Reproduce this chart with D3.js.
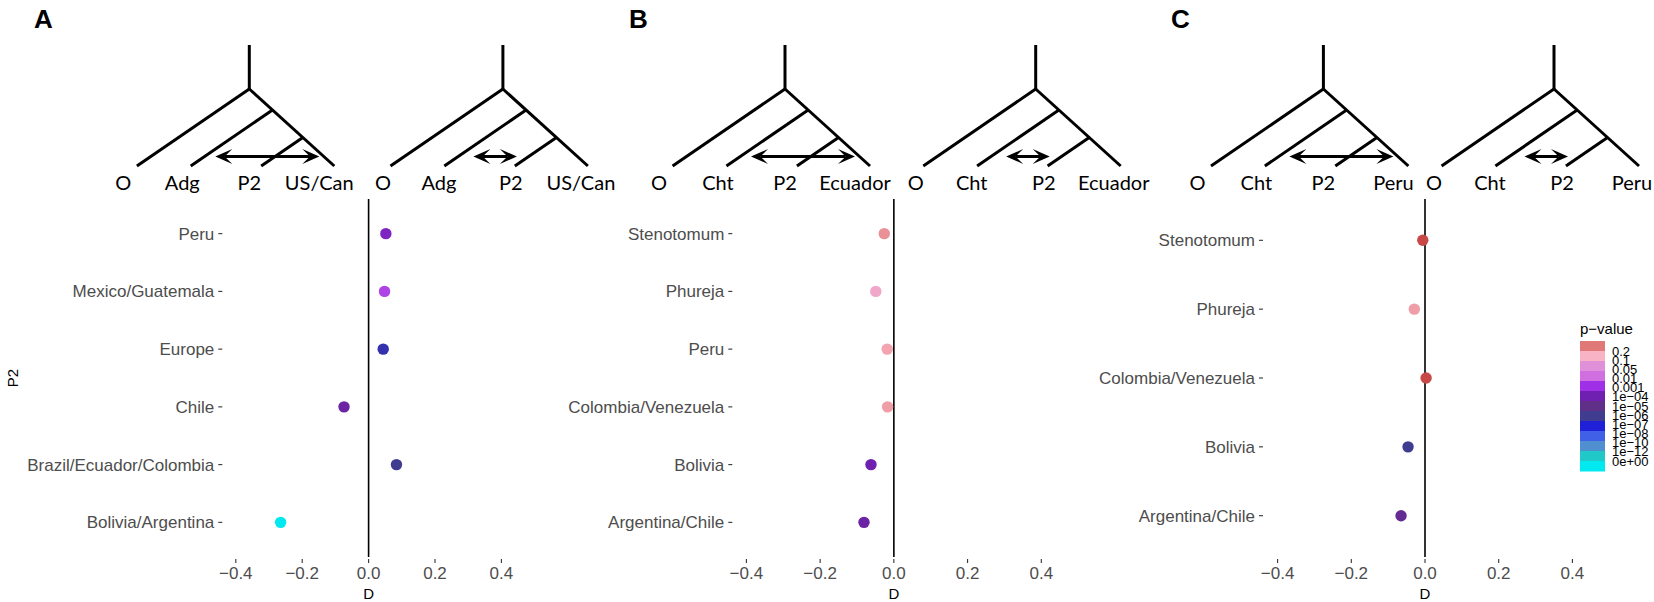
<!DOCTYPE html>
<html>
<head>
<meta charset="utf-8">
<script src="https://cdn.jsdelivr.net/npm/d3@7"></script>
<style>
  html, body { margin: 0; padding: 0; background: #fff; }
  svg { display: block; }
</style>
</head>
<body>
<svg id="chart" width="1654" height="602"></svg>
<script>
// ---------------- data ----------------
const catsA = ["Peru", "Mexico/Guatemala", "Europe", "Chile", "Brazil/Ecuador/Colombia", "Bolivia/Argentina"];
const dA = [0.052, 0.048, 0.044, -0.074, 0.084, -0.265];
const pA = [2e-4, 2e-3, 4e-7, 5e-5, 1e-6, 0];

const catsB = ["Stenotomum", "Phureja", "Peru", "Colombia/Venezuela", "Bolivia", "Argentina/Chile"];
const dB = [-0.026, -0.049, -0.018, -0.017, -0.062, -0.081];
const pB = [0.15, 0.08, 0.12, 0.13, 1e-4, 5e-5];

const catsC = ["Stenotomum", "Phureja", "Colombia/Venezuela", "Bolivia", "Argentina/Chile"];
const dC = [-0.006, -0.029, 0.003, -0.046, -0.065];
const pC = [0.5, 0.13, 0.5, 1e-6, 2e-5];

const xTicks = [-0.4, -0.2, 0.0, 0.2, 0.4];

const treeTipsA = ["O", "Adg", "P2", "US/Can"];
const treeTipsB = ["O", "Cht", "P2", "Ecuador"];
const treeTipsC = ["O", "Cht", "P2", "Peru"];

const legendLabels = ["0.2", "0.1", "0.05", "0.01", "0.001", "1e\u221204", "1e\u221205", "1e\u221206", "1e\u221207", "1e\u221208", "1e\u221210", "1e\u221212", "0e+00"];
const legendBreaks = [0.2, 0.1, 0.05, 0.01, 0.001, 1e-4, 1e-5, 1e-6, 1e-7, 1e-8, 1e-10, 1e-12, 0];
const legendColors = ["#e07878", "#f8b4c4", "#e090d8", "#d070e0", "#a030e8", "#7020b0", "#603088", "#403c90", "#2020d8", "#4060e8", "#5090d0", "#20c8c8", "#00e8f0"];
const aboveTopColor = "#c84848";

// ---------------- scales ----------------
const nlp = p => (p <= 0 ? 16 : -Math.log10(p));
const colour = d3.scaleLinear()
  .domain([nlp(0.5)].concat(legendBreaks.map(nlp)))
  .range([aboveTopColor].concat(legendColors))
  .interpolate(d3.interpolateRgb)
  .clamp(true);

const svg = d3.select("#chart");
const axisFont = "'Liberation Sans', Arial, Helvetica, sans-serif";
const treeFont = "Lato, 'Open Sans', sans-serif";

const panelTop = 199, panelBottom = 557;

const panels = [
  { letter: "A", letterX: 34, cats: catsA, d: dA, p: pA, xr: [235.8, 501.4], labelEnd: 214.3, roots: [249.3, 502.9], tips: treeTipsA, yTitle: "P2" },
  { letter: "B", letterX: 629, cats: catsB, d: dB, p: pB, xr: [746.4, 1041.3], labelEnd: 724.3, roots: [785, 1035.7], tips: treeTipsB, yTitle: null },
  { letter: "C", letterX: 1171, cats: catsC, d: dC, p: pC, xr: [1277.6, 1572.4], labelEnd: 1255, roots: [1323.4, 1554], tips: treeTipsC, yTitle: null }
];

// tree geometry (relative to root)
const rootTopY = 45, rootY = 89, tipY = 166;
const slopeL = 0.685, slopeR = 0.906;
const nodeYs = [rootY, 110, 137.5];

function drawArrowHead(g, x, y, dir) {
  const L = 17, Wd = 7.5, notch = 0.55 * L;
  const pts = [[x, y], [x - dir * L, y - Wd], [x - dir * notch, y], [x - dir * L, y + Wd]];
  g.append("polygon").attr("points", pts.map(p => p.join(",")).join(" ")).attr("fill", "#000");
}

function drawTree(parent, rx, tips, wide) {
  const g = parent.append("g");
  const line = (x1, y1, x2, y2) => g.append("line")
    .attr("x1", x1).attr("y1", y1).attr("x2", x2).attr("y2", y2)
    .attr("stroke", "#000").attr("stroke-width", 3);
  line(rx, rootTopY, rx, rootY);
  const rightTipX = rx + (tipY - rootY) / slopeR;
  line(rx, rootY, rightTipX, tipY);
  nodeYs.forEach(ny => {
    const nx = rx + (ny - rootY) / slopeR;
    const lx = nx - (tipY - ny) / slopeL;
    line(nx, ny, lx, tipY);
  });
  const ay = 156.5;
  const ax1 = wide ? rx - 34 : rx - 29.5;
  const ax2 = wide ? rx + 70 : rx + 14;
  const notch = 0.55 * 17;
  g.append("line").attr("x1", ax1 + notch).attr("x2", ax2 - notch).attr("y1", ay).attr("y2", ay)
    .attr("stroke", "#000").attr("stroke-width", 3);
  drawArrowHead(g, ax1, ay, -1);
  drawArrowHead(g, ax2, ay, 1);
  const offs = wide ? [-126, -67, 0, 70] : [-120, -64, 8, 78];
  g.selectAll("text.tip").data(tips).enter().append("text")
    .attr("class", "tip")
    .attr("x", (d, i) => rx + offs[i]).attr("y", 190)
    .attr("text-anchor", "middle")
    .attr("font-family", treeFont).attr("font-size", 20).attr("fill", "#000")
    .text(d => d);
}

panels.forEach(P => {
  const g = svg.append("g");
  const x = d3.scaleLinear().domain([-0.4, 0.4]).range(P.xr);
  const y = d3.scalePoint().domain(P.cats).range([panelTop, panelBottom]).padding(0.6);

  g.append("text").attr("x", P.letterX).attr("y", 28)
    .attr("font-family", axisFont).attr("font-weight", "bold").attr("font-size", 26)
    .text(P.letter);

  drawTree(g, P.roots[0], P.tips, true);
  drawTree(g, P.roots[1], P.tips, false);

  g.append("line").attr("x1", x(0)).attr("x2", x(0)).attr("y1", panelTop).attr("y2", panelBottom)
    .attr("stroke", "#000").attr("stroke-width", 1.6);

  P.cats.forEach(c => {
    g.append("text").attr("x", P.labelEnd).attr("y", y(c)).attr("dy", "0.35em")
      .attr("text-anchor", "end").attr("font-family", axisFont).attr("font-size", 17)
      .attr("fill", "#4d4d4d").text(c);
    g.append("line").attr("x1", P.labelEnd + 4).attr("x2", P.labelEnd + 8)
      .attr("y1", y(c)).attr("y2", y(c)).attr("stroke", "#333").attr("stroke-width", 1.1);
  });

  xTicks.forEach(t => {
    g.append("line").attr("x1", x(t)).attr("x2", x(t)).attr("y1", 559).attr("y2", 563)
      .attr("stroke", "#333").attr("stroke-width", 1.1);
    g.append("text").attr("x", x(t)).attr("y", 579).attr("text-anchor", "middle")
      .attr("font-family", axisFont).attr("font-size", 17).attr("fill", "#4d4d4d")
      .text(d3.format(".1f")(t).replace("-", "\u2212"));
  });
  g.append("text").attr("x", x(0)).attr("y", 599).attr("text-anchor", "middle")
    .attr("font-family", axisFont).attr("font-size", 15).attr("fill", "#000").text("D");

  if (P.yTitle) {
    g.append("text").attr("transform", "translate(18,378) rotate(-90)")
      .attr("text-anchor", "middle").attr("font-family", axisFont).attr("font-size", 15)
      .attr("fill", "#000").text(P.yTitle);
  }

  g.selectAll("circle").data(P.cats).enter().append("circle")
    .attr("cx", (c, i) => x(P.d[i])).attr("cy", c => y(c)).attr("r", 5.7)
    .attr("fill", (c, i) => colour(nlp(P.p[i])));
});

// ---------------- legend ----------------
const lg = svg.append("g");
lg.append("text").attr("x", 1580).attr("y", 334).attr("font-family", axisFont)
  .attr("font-size", 15).attr("fill", "#000").text("p\u2212value");
const by = d3.scaleBand().domain(legendLabels).range([341, 471]);
lg.selectAll("rect").data(legendLabels).enter().append("rect")
  .attr("x", 1580).attr("width", 25).attr("y", d => by(d)).attr("height", by.bandwidth() + 0.5)
  .attr("fill", (d, i) => legendColors[i]);
const ly = d3.scalePoint().domain(legendLabels).range([351, 461]);
lg.selectAll("text.ll").data(legendLabels).enter().append("text")
  .attr("class", "ll").attr("x", 1612).attr("y", d => ly(d)).attr("dy", "0.35em")
  .attr("font-family", axisFont).attr("font-size", 13).attr("fill", "#000").text(d => d);
</script>
</body>
</html>
